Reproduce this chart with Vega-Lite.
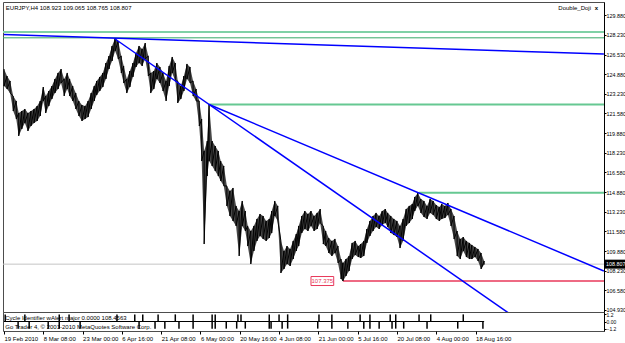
{
  "$schema": "https://vega.github.io/schema/vega-lite/v6.json",
  "padding": {"left": 1, "top": 1, "right": 0, "bottom": 0},
  "background": "white",
  "spacing": 0,
  "bounds": "flush",
  "config": {
    "font": "Liberation Sans",
    "view": {"stroke": "#4d4d4d", "strokeWidth": 1},
    "axis": {"labelFont": "Liberation Sans", "labelFontSize": 5.4, "labelColor": "#000", "tickColor": "#000", "domainColor": "#000", "grid": false, "title": null, "labelOverlap": false, "labelFlush": false, "labelBound": false}
  },
  "datasets": {
    "price": [
      {"i":0,"h":125.31,"l":123.87},{"i":5,"h":124.72,"l":123.62},{"i":10,"h":124.30,"l":123.28},{"i":15,"h":123.03,"l":121.76},
      {"i":20,"h":122.61,"l":121.08},{"i":24,"h":121.59,"l":119.65},{"i":29,"h":121.76,"l":120.24},{"i":34,"h":121.93,"l":120.75},
      {"i":39,"h":121.59,"l":120.07},{"i":44,"h":121.76,"l":120.49},{"i":49,"h":121.93,"l":120.75},{"i":54,"h":122.18,"l":120.92},
      {"i":59,"h":122.61,"l":121.34},{"i":64,"h":123.79,"l":122.61},{"i":68,"h":123.03,"l":121.59},{"i":73,"h":123.45,"l":122.18},
      {"i":78,"h":123.87,"l":122.78},{"i":83,"h":124.47,"l":123.28},{"i":88,"h":124.98,"l":123.62},{"i":93,"h":125.31,"l":124.13},
      {"i":98,"h":124.47,"l":123.03},{"i":103,"h":124.98,"l":123.62},{"i":107,"h":124.47,"l":123.03},{"i":112,"h":123.87,"l":122.61},
      {"i":117,"h":123.28,"l":121.93},{"i":122,"h":122.61,"l":121.34},{"i":127,"h":122.27,"l":120.92},{"i":132,"h":122.18,"l":121.08},
      {"i":137,"h":122.61,"l":121.25},{"i":142,"h":123.28,"l":121.93},{"i":147,"h":123.87,"l":122.61},{"i":151,"h":124.30,"l":123.11},
      {"i":156,"h":124.64,"l":123.45},{"i":161,"h":124.98,"l":123.79},{"i":166,"h":125.82,"l":124.47},{"i":171,"h":126.41,"l":125.31},
      {"i":176,"h":127.26,"l":125.99},{"i":181,"h":127.92,"l":126.84},{"i":186,"h":127.68,"l":126.16},{"i":191,"h":126.41,"l":124.98},
      {"i":195,"h":125.57,"l":124.13},{"i":200,"h":124.47,"l":123.28},{"i":205,"h":125.14,"l":123.79},{"i":210,"h":125.82,"l":124.64},
      {"i":215,"h":126.67,"l":125.48},{"i":220,"h":127.26,"l":125.82},{"i":225,"h":127.00,"l":125.57},{"i":230,"h":127.51,"l":126.16},
      {"i":235,"h":126.41,"l":124.72},{"i":239,"h":124.98,"l":123.28},{"i":244,"h":125.14,"l":123.62},{"i":249,"h":125.82,"l":124.47},
      {"i":254,"h":125.48,"l":124.13},{"i":259,"h":124.98,"l":123.45},{"i":264,"h":124.30,"l":122.61},{"i":269,"h":125.57,"l":123.87},
      {"i":274,"h":126.33,"l":124.98},{"i":279,"h":125.82,"l":124.30},{"i":283,"h":124.30,"l":122.44},{"i":288,"h":123.87,"l":122.78},
      {"i":293,"h":124.72,"l":123.45},{"i":298,"h":125.74,"l":124.47},{"i":303,"h":125.48,"l":124.13},{"i":308,"h":124.30,"l":123.03},
      {"i":313,"h":123.62,"l":122.61},{"i":318,"h":122.61,"l":120.49},{"i":322,"h":121.08,"l":117.53},{"i":326,"h":118.38,"l":110.51},
      {"i":331,"h":119.22,"l":116.26},{"i":334,"h":122.35,"l":117.53},{"i":339,"h":119.22,"l":117.11},{"i":344,"h":118.80,"l":116.69},
      {"i":349,"h":118.38,"l":116.26},{"i":353,"h":117.53,"l":115.84},{"i":358,"h":117.11,"l":115.42},{"i":363,"h":115.42,"l":113.73},
      {"i":368,"h":115.00,"l":112.88},{"i":373,"h":115.25,"l":112.46},{"i":378,"h":113.73,"l":112.04},{"i":383,"h":113.30,"l":109.50},
      {"i":388,"h":114.15,"l":112.04},{"i":393,"h":113.30,"l":111.61},{"i":397,"h":112.04,"l":110.34},{"i":402,"h":111.61,"l":108.82},
      {"i":407,"h":112.04,"l":109.92},{"i":412,"h":112.63,"l":110.77},{"i":417,"h":113.05,"l":111.19},{"i":422,"h":112.88,"l":110.94},
      {"i":427,"h":112.46,"l":110.77},{"i":432,"h":112.63,"l":111.02},{"i":436,"h":113.30,"l":111.44},{"i":441,"h":114.15,"l":112.88},
      {"i":446,"h":113.73,"l":112.46},{"i":451,"h":110.77,"l":108.06},{"i":456,"h":109.92,"l":108.40},{"i":461,"h":110.34,"l":108.82},
      {"i":466,"h":110.09,"l":108.65},{"i":471,"h":110.77,"l":109.24},{"i":476,"h":111.36,"l":109.92},{"i":480,"h":112.04,"l":110.34},
      {"i":485,"h":112.88,"l":111.44},{"i":490,"h":113.30,"l":111.78},{"i":495,"h":113.05,"l":111.61},{"i":500,"h":113.30,"l":112.04},
      {"i":505,"h":112.88,"l":111.61},{"i":510,"h":113.14,"l":111.78},{"i":515,"h":113.47,"l":112.29},{"i":520,"h":112.04,"l":110.51},
      {"i":524,"h":111.61,"l":110.34},{"i":529,"h":111.02,"l":109.75},{"i":534,"h":110.77,"l":109.50},{"i":539,"h":110.94,"l":109.75},
      {"i":544,"h":110.34,"l":108.91},{"i":549,"h":109.24,"l":107.55},{"i":552,"h":108.91,"l":107.38},{"i":557,"h":109.24,"l":107.81},
      {"i":562,"h":109.50,"l":108.23},{"i":567,"h":110.60,"l":109.24},{"i":572,"h":110.77,"l":109.58},{"i":577,"h":110.34,"l":109.41},
      {"i":581,"h":110.51,"l":109.33},{"i":586,"h":110.77,"l":109.50},{"i":591,"h":111.78,"l":110.60},{"i":596,"h":112.46,"l":111.19},
      {"i":601,"h":112.88,"l":111.61},{"i":606,"h":113.14,"l":111.95},{"i":611,"h":112.88,"l":111.78},{"i":616,"h":113.30,"l":112.12},
      {"i":621,"h":113.47,"l":112.29},{"i":625,"h":113.14,"l":111.95},{"i":630,"h":112.88,"l":111.44},{"i":635,"h":112.63,"l":111.27},
      {"i":640,"h":112.46,"l":111.10},{"i":645,"h":112.04,"l":110.17},{"i":650,"h":112.63,"l":110.77},{"i":655,"h":113.47,"l":112.04},
      {"i":660,"h":113.73,"l":112.29},{"i":665,"h":113.90,"l":112.63},{"i":669,"h":114.49,"l":113.30},{"i":674,"h":114.83,"l":113.73},
      {"i":679,"h":114.32,"l":113.14},{"i":684,"h":114.15,"l":112.80},{"i":689,"h":113.73,"l":112.63},{"i":694,"h":114.32,"l":113.14},
      {"i":699,"h":114.15,"l":112.97},{"i":704,"h":113.81,"l":112.63},{"i":709,"h":113.64,"l":112.46},{"i":713,"h":113.90,"l":112.63},
      {"i":718,"h":113.73,"l":112.71},{"i":723,"h":113.98,"l":112.97},{"i":728,"h":113.47,"l":112.04},{"i":733,"h":112.88,"l":110.94},
      {"i":738,"h":111.61,"l":109.50},{"i":743,"h":110.94,"l":109.24},{"i":748,"h":111.10,"l":109.92},{"i":753,"h":110.77,"l":109.41},
      {"i":758,"h":110.60,"l":109.24},{"i":762,"h":110.43,"l":109.24},{"i":767,"h":110.26,"l":109.41},{"i":772,"h":110.09,"l":109.08},
      {"i":777,"h":109.75,"l":108.40},{"i":782,"h":109.07,"l":108.77}
    ],
    "trend": [
      {"line":"top","i":0,"p":128.23},{"line":"top","i":977,"p":126.58},
      {"line":"steep","i":181,"p":127.85},{"line":"steep","i":977,"p":99.06},
      {"line":"shallow","i":334,"p":122.31},{"line":"shallow","i":977,"p":108.23}
    ],
    "cycle": [
      {"i":2,"v":1.2},{"i":34,"v":1.2},{"i":90,"v":1.2},{"i":106,"v":1.2},{"i":184,"v":1.2},{"i":213,"v":1.2},{"i":226,"v":1.2},
      {"i":251,"v":1.2},{"i":279,"v":1.2},{"i":308,"v":1.2},{"i":339,"v":1.2},{"i":344,"v":1.2},{"i":381,"v":1.2},{"i":386,"v":1.2},
      {"i":432,"v":1.2},{"i":448,"v":1.2},{"i":462,"v":1.2},{"i":513,"v":1.2},{"i":534,"v":1.2},{"i":580,"v":1.2},{"i":596,"v":1.2},
      {"i":629,"v":1.2},{"i":638,"v":1.2},{"i":676,"v":1.2},{"i":695,"v":1.2},{"i":748,"v":1.2},
      {"i":23,"v":-1.2},{"i":41,"v":-1.2},{"i":72,"v":-1.2},{"i":90,"v":-1.2},{"i":124,"v":-1.2},{"i":220,"v":-1.2},{"i":246,"v":-1.2},
      {"i":262,"v":-1.2},{"i":285,"v":-1.2},{"i":308,"v":-1.2},{"i":339,"v":-1.2},{"i":344,"v":-1.2},{"i":362,"v":-1.2},{"i":379,"v":-1.2},
      {"i":393,"v":-1.2},{"i":432,"v":-1.2},{"i":435,"v":-1.2},{"i":453,"v":-1.2},{"i":462,"v":-1.2},{"i":511,"v":-1.2},{"i":534,"v":-1.2},
      {"i":560,"v":-1.2},{"i":586,"v":-1.2},{"i":596,"v":-1.2},{"i":611,"v":-1.2},{"i":632,"v":-1.2},{"i":638,"v":-1.2},{"i":651,"v":-1.2},
      {"i":689,"v":-1.2},{"i":739,"v":-1.2},{"i":780,"v":-1.2}
    ]
  },
  "vconcat": [
    {
      "width": 601,
      "height": 310,
      "encoding": {
        "y": {"type": "quantitative",
          "scale": {"domain": [104.76, 130.98], "nice": false, "zero": false},
          "axis": {"orient": "right", "values": [129.88,128.23,126.53,124.88,123.23,121.58,119.88,118.23,116.58,114.88,113.23,111.58,109.88,108.23,106.58,104.93],
            "format": ".3f", "tickSize": 2, "labelPadding": 0, "labelFlush": false, "labelOverlap": false, "labelBound": false, "domain": true}}
      },
      "layer": [
        {
          "data": {"values": [{"p": 108.807}]},
          "mark": {"type": "rule", "color": "#c4c4c4", "strokeWidth": 1},
          "encoding": {"y": {"field": "p"}}
        },
        {
          "data": {"values": [{"p": 128.45}]},
          "mark": {"type": "rule", "color": "#7fd1a6", "strokeWidth": 2},
          "encoding": {"y": {"field": "p"}}
        },
        {
          "data": {"values": [{"p": 127.95}]},
          "mark": {"type": "rule", "color": "#35a866", "strokeWidth": 1},
          "encoding": {"y": {"field": "p"}}
        },
        {
          "data": {"values": [{"p": 122.31, "i0": 334, "i1": 977.2}, {"p": 114.85, "i0": 676, "i1": 977.2}]},
          "mark": {"type": "rule", "color": "#66c892", "strokeWidth": 2},
          "encoding": {"y": {"field": "p"}, "x": {"field": "i0", "type": "quantitative", "scale": {"domain": [-1.6, 977.2], "nice": false, "zero": false}, "axis": null}, "x2": {"field": "i1"}}
        },
        {
          "data": {"values": [{"p": 107.375, "i0": 552, "i1": 977.2}]},
          "mark": {"type": "rule", "color": "#e8385a", "strokeWidth": 1.5},
          "encoding": {"y": {"field": "p"}, "x": {"field": "i0", "type": "quantitative", "axis": null}, "x2": {"field": "i1"}}
        },
        {
          "data": {"name": "price"},
          "mark": {"type": "area", "color": "#1a1a1a", "opacity": 0.8, "clip": true},
          "encoding": {
            "x": {"field": "i", "type": "quantitative", "axis": null},
            "y": {"field": "h"},
            "y2": {"field": "l"}
          }
        },
        {
          "data": {"name": "price"},
          "transform": [{"fold": ["h", "l"], "as": ["k", "v"]}],
          "mark": {"type": "line", "color": "#000", "strokeWidth": 1, "clip": true},
          "encoding": {
            "x": {"field": "i", "type": "quantitative", "axis": null},
            "y": {"field": "v"},
            "order": [{"field": "i", "type": "quantitative"}, {"field": "k"}]
          }
        },
        {
          "data": {"name": "trend"},
          "mark": {"type": "line", "color": "#0000ff", "strokeWidth": 1.5, "clip": true},
          "encoding": {
            "x": {"field": "i", "type": "quantitative", "axis": null},
            "y": {"field": "p"},
            "detail": {"field": "line"}
          }
        },
        {
          "data": {"values": [{"a": 107.0, "b": 107.76}]},
          "mark": {"type": "rect", "fill": "white", "stroke": "#e8385a", "strokeWidth": 1},
          "encoding": {"x": {"datum": 500, "axis": null}, "x2": {"datum": 537}, "y": {"field": "a"}, "y2": {"field": "b"}}
        },
        {
          "data": {"values": [{"p": 107.38}]},
          "mark": {"type": "text", "text": "107.375", "color": "#e8385a", "fontSize": 6, "align": "center", "baseline": "middle"},
          "encoding": {"x": {"datum": 518.5, "axis": null}, "y": {"field": "p"}}
        },
        {
          "data": {"values": [{"p": 108.807}]},
          "mark": {"type": "rule", "color": "#000", "strokeWidth": 9, "clip": false},
          "encoding": {"x": {"datum": 978.5, "axis": null}, "x2": {"datum": 1018}, "y": {"field": "p"}}
        },
        {
          "data": {"values": [{"p": 108.807}]},
          "mark": {"type": "text", "text": "108.807", "color": "#fff", "fontSize": 5.4, "align": "left", "baseline": "middle", "clip": false},
          "encoding": {"x": {"datum": 980.5, "axis": null}, "y": {"field": "p"}}
        },
        {
          "data": {"values": [{"p": 130.47}]},
          "mark": {"type": "text", "text": "EURJPY,H4  108.923 109.065 108.765 108.807", "color": "#000", "fontSize": 6, "align": "left", "baseline": "middle"},
          "encoding": {"x": {"datum": 3, "axis": null}, "y": {"field": "p"}}
        },
        {
          "data": {"values": [{"p": 130.47}]},
          "mark": {"type": "text", "text": "Double_Doji", "color": "#000", "fontSize": 6, "align": "right", "baseline": "middle"},
          "encoding": {"x": {"datum": 956, "axis": null}, "y": {"field": "p"}}
        },
        {
          "data": {"values": [{"p": 130.47}]},
          "mark": {"type": "text", "text": "x", "color": "#000", "fontSize": 6, "fontWeight": "bold", "align": "center", "baseline": "middle"},
          "encoding": {"x": {"datum": 965, "axis": null}, "y": {"field": "p"}}
        }
      ]
    },
    {
      "width": 601,
      "height": 19,
      "encoding": {
        "x": {"type": "quantitative", "scale": {"domain": [-1.6, 977.2], "nice": false, "zero": false},
          "axis": {"orient": "bottom", "values": [0,64,128,192,256,320,384,448,512,576,640,704,768],
            "labelExpr": "['19 Feb 2010','8 Mar 08:00','23 Mar 00:00','6 Apr 16:00','21 Apr 08:00','6 May 00:00','20 May 16:00','4 Jun 08:00','21 Jun 00:00','5 Jul 16:00','20 Jul 08:00','4 Aug 00:00','18 Aug 16:00'][round(datum.value/64)]",
            "tickSize": 3, "labelAlign": "left", "labelBaseline": "top", "labelPadding": 1, "labelFontSize": 6, "domain": false, "labelFlush": false, "labelOverlap": false}},
        "y": {"type": "quantitative", "scale": {"domain": [-1.6, 1.6], "nice": false, "zero": false},
          "axis": {"orient": "right", "values": [1.2, 0, -1.2], "labelExpr": "datum.value == 0 ? '0.00' : format(datum.value, '.1f')",
            "tickSize": 2, "labelPadding": 0, "labelFontSize": 5, "labelFlush": false, "labelOverlap": false, "labelBound": false, "domain": true}}
      },
      "layer": [
        {
          "data": {"values": [{"a": 0, "b": 782, "z": 0}]},
          "mark": {"type": "rule", "color": "#000", "strokeWidth": 1},
          "encoding": {"x": {"field": "a"}, "x2": {"field": "b"}, "y": {"field": "z"}}
        },
        {
          "data": {"values": [{"a": 2, "z": 0.6}]},
          "mark": {"type": "text", "text": "Cycle Identifier wAlert major 0.0000 108.4563", "color": "#000", "fontSize": 6, "align": "left", "baseline": "middle"},
          "encoding": {"x": {"field": "a"}, "y": {"field": "z"}}
        },
        {
          "data": {"values": [{"a": 2, "z": -0.95}]},
          "mark": {"type": "text", "text": "Go Trader 4, © 2001-2010 MetaQuotes Software Corp.", "color": "#000", "fontSize": 6, "align": "left", "baseline": "middle"},
          "encoding": {"x": {"field": "a"}, "y": {"field": "z"}}
        },
        {
          "data": {"name": "cycle"},
          "mark": {"type": "rule", "color": "#000", "strokeWidth": 1.5},
          "encoding": {
            "x": {"field": "i"},
            "y": {"field": "v"},
            "y2": {"datum": 0}
          }
        }
      ]
    }
  ]
}
